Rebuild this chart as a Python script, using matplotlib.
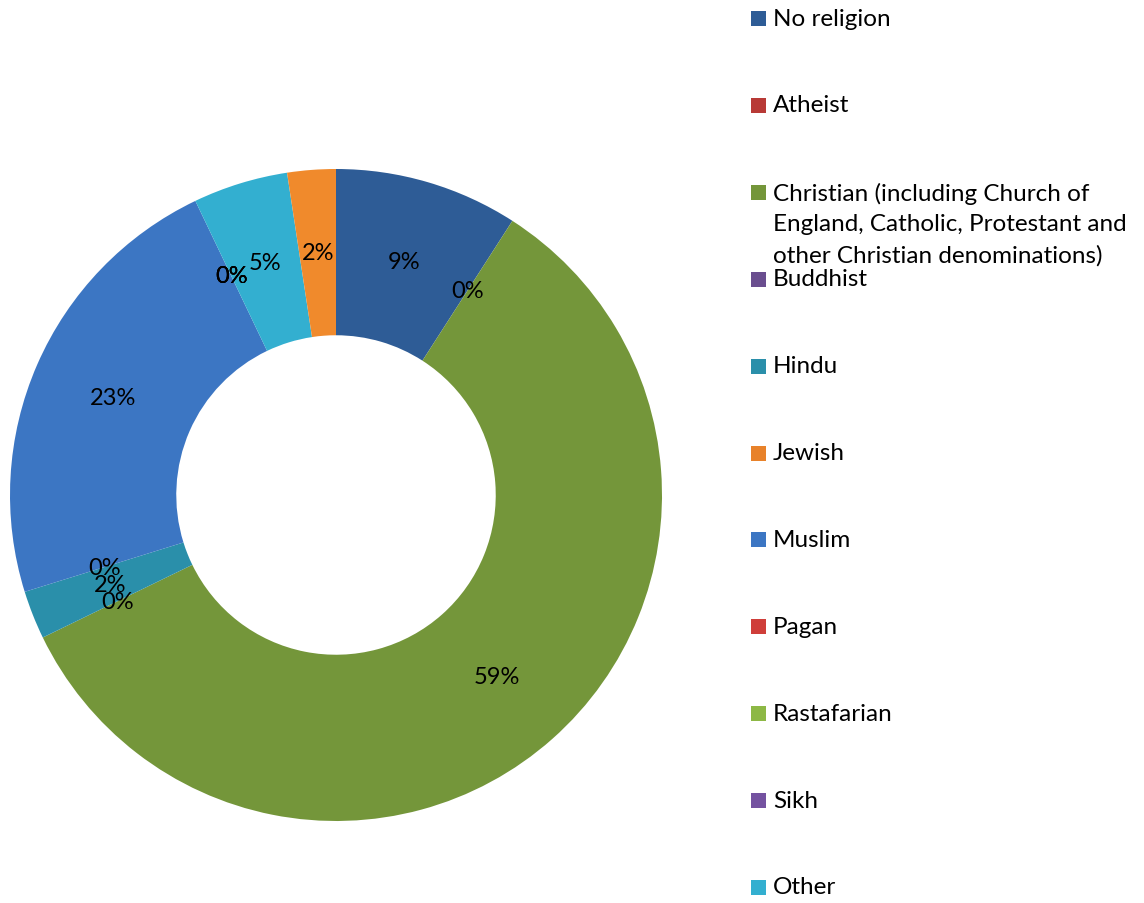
import matplotlib.pyplot as plt
from matplotlib.patches import Rectangle

plt.rcParams["font.family"] = ["Lato", "DejaVu Sans"]

categories = [
    "No religion",
    "Atheist",
    "Christian (including Church of\nEngland, Catholic, Protestant and\nother Christian denominations)",
    "Buddhist",
    "Hindu",
    "Jewish",
    "Muslim",
    "Pagan",
    "Rastafarian",
    "Sikh",
    "Other",
    "",  # twelfth slice, not listed in the legend
]
shares = [9.1, 0, 58.7, 0, 2.4, 0, 22.7, 0, 0, 0, 4.7, 2.4]
colors = [
    "#2E5C96", "#B83A36", "#74963A", "#6A4E8F", "#2A8FAA", "#E8822A",
    "#3C76C3", "#CF3E3A", "#8DB845", "#7452A0", "#33AFD0", "#F08A2C",
]

W, H = 1144, 904
fig = plt.figure(figsize=(W / 100, H / 100), dpi=100)

# donut: centre (336, 496) px, radius 326 px
cx, cy, r = 336, 496, 326
ax = fig.add_axes([(cx - r) / W, (H - cy - r) / H, 2 * r / W, 2 * r / H])
wedges, _, autotexts = ax.pie(
    shares,
    colors=colors,
    startangle=90,
    counterclock=False,
    radius=1.0,
    autopct=lambda p: f"{p:.0f}%",
    pctdistance=0.745,
    wedgeprops=dict(width=0.51, linewidth=0),
    textprops=dict(fontsize=17, color="black"),
)
ax.set_xlim(-1, 1)
ax.set_ylim(-1, 1)
ax.set_aspect("equal")
ax.axis("off")

# legend, one entry every ~87 px down the right side
top, step = 19, 86.9
for i, (name, col) in enumerate(zip(categories[:11], colors[:11])):
    y = top + i * step
    fig.patches.append(Rectangle((751 / W, (H - y - 8) / H), 15 / W, 15 / H,
                                 transform=fig.transFigure, facecolor=col,
                                 edgecolor="none"))
    if "\n" in name:
        fig.text(773 / W, (H - y + 10) / H, name, fontsize=17.5, va="top",
                 ha="left", linespacing=1.55)
    else:
        fig.text(773 / W, (H - y) / H, name, fontsize=17.5, va="center", ha="left")

fig.savefig("out.png", dpi=100, facecolor="white")
